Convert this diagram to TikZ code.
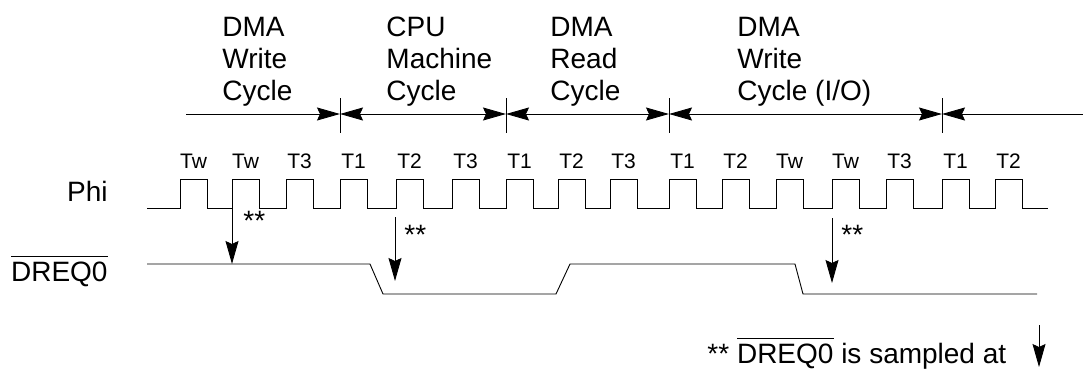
\documentclass[tikz,border=0pt]{standalone}
\usepackage{fontspec}
\setmainfont{Liberation Sans}
\usepackage{tikz}
\usetikzlibrary{arrows.meta}

% text with a bar over it (active low signal)
\newcommand{\lowbar}[1]{\leavevmode\vbox{\hrule height 1.5pt\kern 4pt\hbox{#1}}}

\begin{document}
\begin{tikzpicture}[x=1pt, y=-1pt, line width=0.9pt,
    >={Stealth[length=23pt, width=13pt, inset=3pt]},
    big/.style={font=\fontsize{28}{32}\selectfont, inner sep=0pt},
    small/.style={font=\fontsize{21}{24}\selectfont, inner sep=0pt}]
    \useasboundingbox (0,0) rectangle (1083,369);

    % ---------------- cycle names ----------------
    \node[big, anchor=base west, align=left] (wr1) at (222,100) {DMA\\Write\\Cycle};
    \node[big, anchor=base west, align=left] (cpu) at (386,100) {CPU\\Machine\\Cycle};
    \node[big, anchor=base west, align=left] (rd) at (550,100) {DMA\\Read\\Cycle};
    \node[big, anchor=base west, align=left] (wr2) at (737,100) {DMA\\Write\\Cycle (I/O)};

    % cycle limits
    \coordinate (d0) at (186,114);
    \foreach \x [count=\i] in {340,506,669,942} {
        \coordinate (d\i) at (\x,114);
        \draw (\x,98) -- (\x,133);
    }
    \coordinate (d5) at (1083,114);
    \draw[->] (d0) -- (d1);
    \draw[<->] (d1) -- (d2);
    \draw[<->] (d2) -- (d3);
    \draw[<->] (d3) -- (d4);
    \draw[<-] (d4) -- (d5);

    % ---------------- Phi clock ----------------
    \node[big, anchor=base east] (phi) at (108,201) {Phi};
    \foreach \x/\t [count=\i] in {180/Tw,232/Tw,286/T3,340/T1,396/T2,452/T3,506/T1,558/T2,
                                  610/T3,669/T1,722/T2,776/Tw,832/Tw,886/T3,942/T1,995/T2}
        \node[small, anchor=base] (t\i) at (\x+13.5,168) {\t};
    \draw (147,208) \foreach \x in {180,232,286,340,396,452,506,558,610,669,722,776,832,886,942,995}
        { -- (\x,208) -- (\x,179) -- ++(27,0) -- ++(0,29) } -- (1048,208);

    % ---------------- DREQ0 ----------------
    \node[big, anchor=base east] (dreq) at (108,281) {\lowbar{DREQ0}};
    \draw (147,264) -- (370,264) -- (383,294) -- (556,294) -- (570,264)
        -- (795,264) -- (803,294) -- (1037,294);

    % sampling points
    \foreach \x/\a/\b [count=\i] in {232/208/264, 395/217/281, 832/218/283} {
        \coordinate (sa\i) at (\x,\a);
        \coordinate (sb\i) at (\x,\b);
        \draw[->] (sa\i) -- (sb\i);
    }
    \node[big, anchor=base west] (ast1) at (243,230) {**};
    \node[big, anchor=base west] (ast2) at (404,244) {**};
    \node[big, anchor=base west] (ast3) at (841,244) {**};

    % ---------------- note ----------------
    \node[big, anchor=base west] (note) at (707,363) {** \lowbar{DREQ0} is sampled at};
    \coordinate (na) at (1039,325);
    \coordinate (nb) at (1039,367);
    \draw[->] (na) -- (nb);
\end{tikzpicture}
\end{document}
